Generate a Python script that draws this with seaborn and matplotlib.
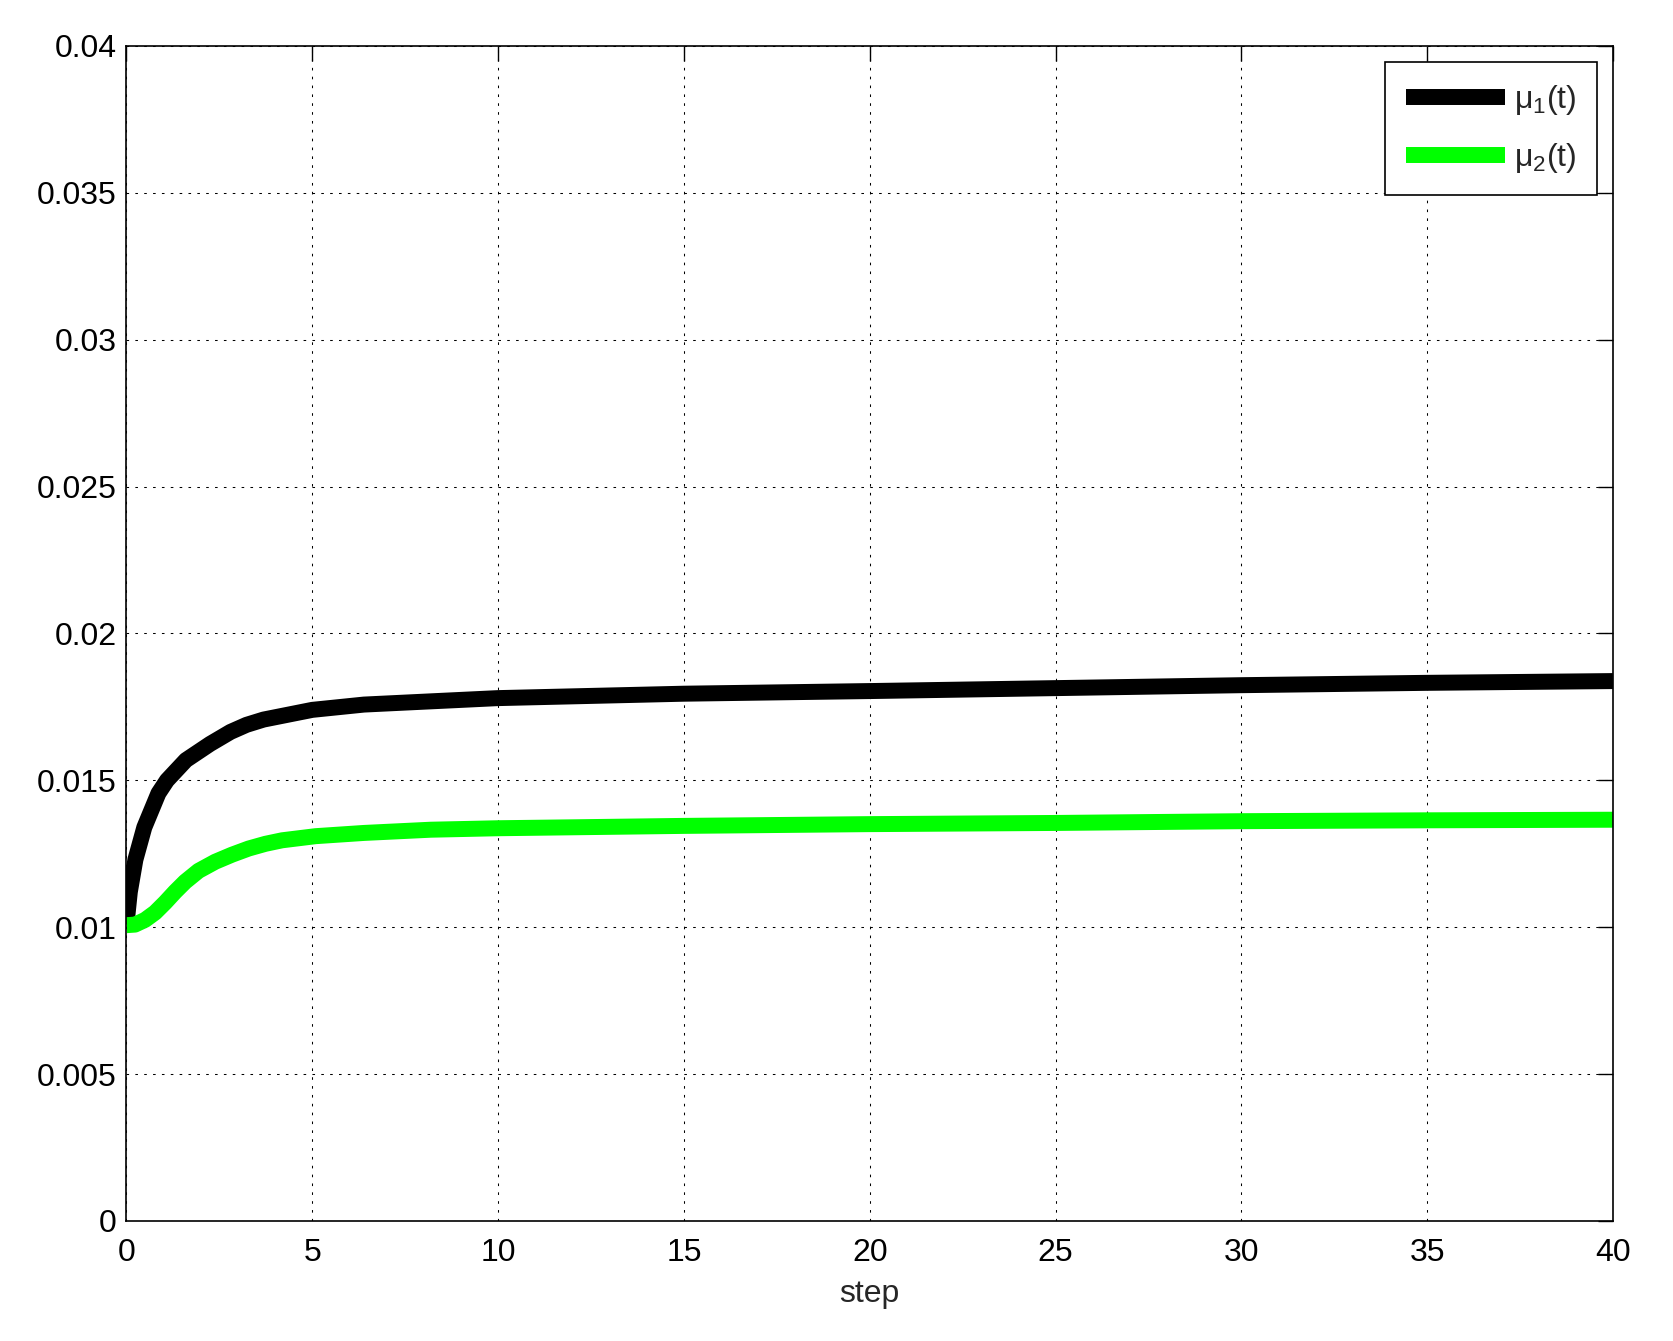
import matplotlib
matplotlib.use('Agg')
import matplotlib.pyplot as plt
import seaborn as sns
import pandas as pd

# values
t_mu1 = [0, 0.09, 0.24, 0.48, 0.86, 1.09, 1.6, 2.25, 2.8, 3.23, 3.69, 5, 6.39, 8.19,
         10, 15, 20, 25, 30, 35, 40]
mu1 = [0.0101, 0.0112, 0.0123, 0.0134, 0.01456, 0.0150, 0.01569, 0.01624, 0.01665, 0.01689,
       0.01707, 0.0174, 0.01758, 0.01769, 0.0178, 0.01795, 0.01804, 0.01814, 0.01824,
       0.01832, 0.01838]

t_mu2 = [0, 0.23, 0.5, 0.77, 1.04, 1.31, 1.58, 1.94, 2.39, 2.84, 3.29, 3.74, 4.19, 5.09,
         6.39, 8.19, 10, 15, 20, 25, 30, 35, 40]
mu2 = [0.01007, 0.01009, 0.01025, 0.0105, 0.01084, 0.01121, 0.01155, 0.01192, 0.01223, 0.01247,
       0.01268, 0.01284, 0.01296, 0.0131, 0.01321, 0.01332, 0.01337, 0.01345, 0.01351,
       0.01355, 0.01361, 0.01364, 0.01366]

labels = ['μ$_1$(t)', 'μ$_2$(t)']
colors = ['#000000', '#00ff00']

xticks = [0, 5, 10, 15, 20, 25, 30, 35, 40]
yticks = [0, 0.005, 0.01, 0.015, 0.02, 0.025, 0.03, 0.035, 0.04]
ytick_labels = ['0', '0.005', '0.01', '0.015', '0.02', '0.025', '0.03', '0.035', '0.04']

sns.set_style('white')
plt.rcParams['font.family'] = ['Liberation Sans', 'DejaVu Sans']
plt.rcParams['mathtext.fontset'] = 'custom'
plt.rcParams['mathtext.rm'] = 'Liberation Sans'
plt.rcParams['mathtext.it'] = 'Liberation Sans'

df1 = pd.DataFrame({'t': t_mu1, 'v': mu1})
df2 = pd.DataFrame({'t': t_mu2, 'v': mu2})

fig = plt.figure(figsize=(16.73, 13.41), dpi=100)
ax = fig.add_axes([0.0756, 0.0895, 0.9886 - 0.0756 - 0.0245, 0.9657 - 0.0895])

#две кривые
sns.lineplot(data=df1, x='t', y='v', color=colors[0], linewidth=11.5, label=labels[0], ax=ax,
             estimator=None, sort=False, solid_joinstyle='round', solid_capstyle='butt')
sns.lineplot(data=df2, x='t', y='v', color=colors[1], linewidth=11.5, label=labels[1], ax=ax,
             estimator=None, sort=False, solid_joinstyle='round', solid_capstyle='butt')

ax.set_xlim(0, 40)
ax.set_ylim(0, 0.04)
ax.set_xticks(xticks)
ax.set_xticklabels([str(x) for x in xticks])
ax.set_yticks(yticks)
ax.set_yticklabels(ytick_labels)
ax.set_xlabel('step', fontsize=23, labelpad=8)
ax.set_ylabel('')

ax.grid(True, color='black', linestyle=(0, (2.5, 6)), linewidth=0.75)
ax.tick_params(direction='in', length=11, width=1, labelsize=23, top=True, right=True,
               colors='black')
ax.tick_params(axis='x', pad=12.5)
ax.tick_params(axis='y', pad=7)
for s in ax.spines.values():
    s.set_color('black')
    s.set_linewidth(1.2)

#легенда
leg = ax.legend(loc='upper right', fontsize=23, frameon=True, fancybox=False, framealpha=1,
                edgecolor='black', handlelength=3.1, handletextpad=0.28, labelspacing=0.75,
                borderpad=0.65, borderaxespad=0.5)
leg.get_frame().set_linewidth(1.2)
for line in leg.get_lines():
    line.set_linewidth(11.5)
    line.set_solid_capstyle('butt')

fig.savefig('out.png', dpi=100)
